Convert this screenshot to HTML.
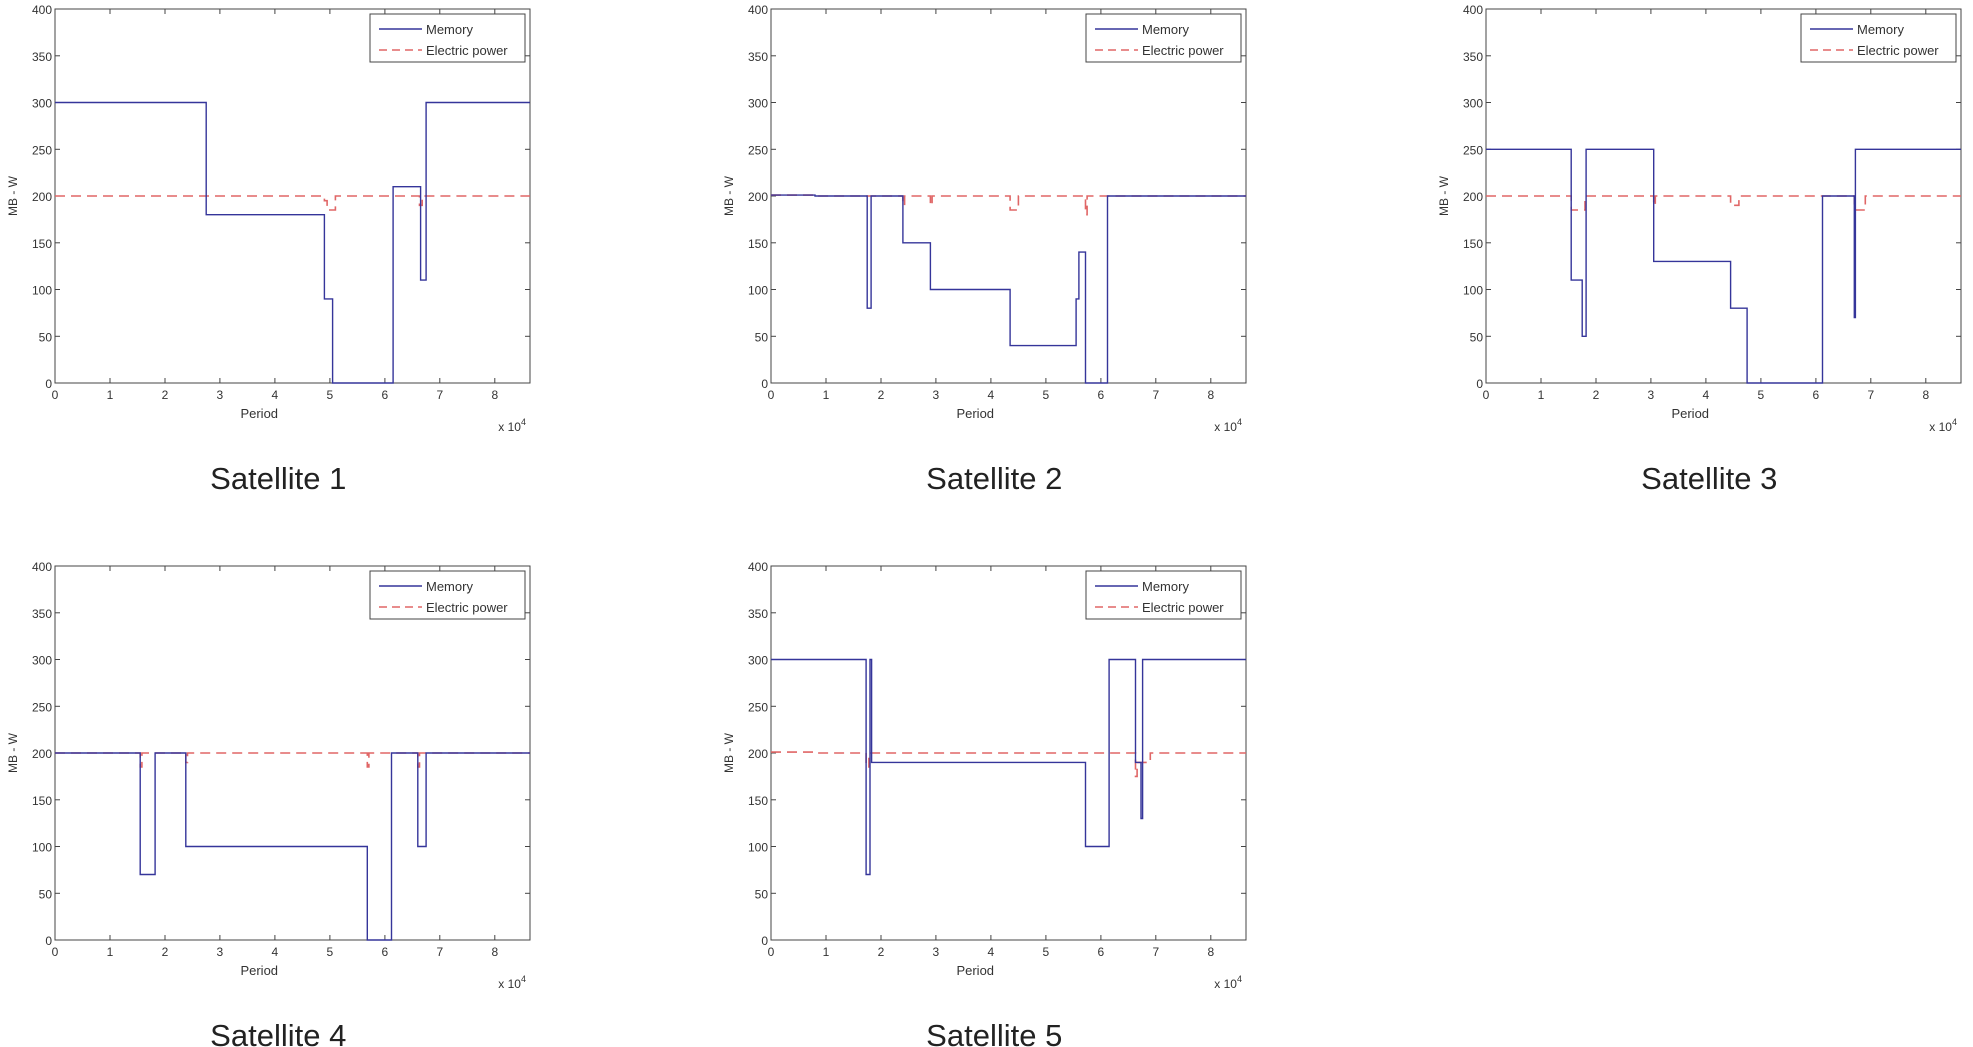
<!DOCTYPE html>
<html><head><meta charset="utf-8">
<style>
html,body{margin:0;padding:0;background:#fff;}
svg{display:block;font-family:"Liberation Sans",Arial,sans-serif;}
</style></head>
<body>
<svg id="root" width="1973" height="1047" viewBox="0 0 1973 1047"></svg>
<script>
// x values in units of 1e4 (Period), y in MB - W
const s1MemX=[0,2.75,4.9,5.05,6.15,6.65,6.75,8.64];
const s1MemY=[300,180,90,0,210,110,300,300];
const s1PowX=[0,4.9,4.95,5.1,6.63,6.68,8.64];
const s1PowY=[200,195,185,200,190,200,200];

const s2MemX=[0,0.8,1.75,1.82,2.4,2.9,4.35,5.55,5.6,5.72,6.12,8.64];
const s2MemY=[201,200,80,200,150,100,40,90,140,0,200,200];
const s2PowX=[0,0.8,2.4,2.43,2.9,2.93,4.35,4.5,5.72,5.75,8.64];
const s2PowY=[201,200,190,200,190,200,185,200,180,200,200];

const s3MemX=[0,1.55,1.75,1.82,3.05,4.45,4.75,6.12,6.7,6.72,8.64];
const s3MemY=[250,110,50,250,130,80,0,200,70,250,250];
const s3PowX=[0,1.55,1.8,3.05,3.08,4.45,4.6,6.7,6.9,8.64];
const s3PowY=[200,185,200,190,200,190,200,185,200,200];

const s4MemX=[0,1.55,1.82,2.38,5.68,6.12,6.6,6.75,8.64];
const s4MemY=[200,70,200,100,0,200,100,200,200];
const s4PowX=[0,1.55,1.58,2.38,2.41,5.68,5.71,6.6,6.63,8.64];
const s4PowY=[200,185,200,190,200,185,200,185,200,200];

const s5MemX=[0,1.73,1.8,1.83,5.72,6.15,6.63,6.73,6.76,8.64];
const s5MemY=[300,70,300,190,100,300,190,130,300,300];
const s5PowX=[0,0.8,1.73,1.78,6.63,6.66,6.9,8.64];
const s5PowY=[201,200,185,200,175,190,200,200];

const xTicks=[0,1,2,3,4,5,6,7,8];
const yTicks=[0,50,100,150,200,250,300,350,400];
const captions=["Satellite 1","Satellite 2","Satellite 3","Satellite 4","Satellite 5"];

const charts=[
 {mx:s1MemX,my:s1MemY,px:s1PowX,py:s1PowY,L:55,T:9},
 {mx:s2MemX,my:s2MemY,px:s2PowX,py:s2PowY,L:771,T:9},
 {mx:s3MemX,my:s3MemY,px:s3PowX,py:s3PowY,L:1486,T:9},
 {mx:s4MemX,my:s4MemY,px:s4PowX,py:s4PowY,L:55,T:566},
 {mx:s5MemX,my:s5MemY,px:s5PowX,py:s5PowY,L:771,T:566}
];
const W=475,H=374,XMAX=8.64,YMAX=400;
const NS="http://www.w3.org/2000/svg";
const root=document.getElementById('root');
function mk(tag,attrs,parent){const e=document.createElementNS(NS,tag);for(const k in attrs)e.setAttribute(k,attrs[k]);parent.appendChild(e);return e;}
function stepPath(xs,ys,sx,sy){let d='M'+sx(xs[0])+','+sy(ys[0]);for(let i=1;i<xs.length;i++){d+=' H'+sx(xs[i])+' V'+sy(ys[i]);}return d;}

charts.forEach((c,i)=>{
 const g=mk('g',{},root);
 
 
 const sx=v=>(c.L+v/XMAX*W).toFixed(1);
 const sy=v=>(c.T+H-v/YMAX*H).toFixed(1);
 const box=mk('rect',{x:c.L,y:c.T,width:W,height:H,fill:'#fff',stroke:'#444','stroke-width':1},g);
 
 
 xTicks.forEach(t=>{
  const x=sx(t);
  mk('line',{x1:x,x2:x,y1:c.T+H,y2:c.T+H-5,stroke:'#444'},g);
  mk('line',{x1:x,x2:x,y1:c.T,y2:c.T+5,stroke:'#444'},g);
  const tl=mk('text',{x:x,y:c.T+H+16,'text-anchor':'middle','font-size':12,fill:'#333'},g);
  tl.textContent=t;
  
  
 });
 yTicks.forEach(t=>{
  const y=sy(t);
  mk('line',{x1:c.L,x2:c.L+5,y1:y,y2:y,stroke:'#444'},g);
  mk('line',{x1:c.L+W,x2:c.L+W-5,y1:y,y2:y,stroke:'#444'},g);
  const tl=mk('text',{x:c.L-3,y:+y+5,'text-anchor':'end','font-size':12,fill:'#333'},g);
  tl.textContent=t;
  
  
 });
 const xt=mk('text',{x:c.L+W*0.43,y:c.T+H+35,'text-anchor':'middle','font-size':13,fill:'#333'},g);
 xt.textContent='Period';
 
 
 const ex=mk('text',{x:c.L+W-4,y:c.T+H+48,'text-anchor':'end','font-size':12,fill:'#333'},g);
 ex.innerHTML='x 10<tspan dy="-6" font-size="9">4</tspan>';
 
 
 const yt=mk('text',{x:0,y:0,'text-anchor':'middle','font-size':12,fill:'#333',transform:'translate('+(c.L-38)+','+(c.T+H/2)+') rotate(-90)'},g);
 yt.textContent='MB - W';
 
 
 const pw=mk('path',{d:stepPath(c.px,c.py,sx,sy),fill:'none',stroke:'#e06666','stroke-width':1.6,'stroke-dasharray':'10,6'},g);
 
 
 const mm=mk('path',{d:stepPath(c.mx,c.my,sx,sy),fill:'none',stroke:'#35359a','stroke-width':1.4},g);
 
 
 const lg=mk('g',{},g);
 
 
 const lx=c.L+W-160,ly=c.T+5;
 mk('rect',{x:lx,y:ly,width:155,height:48,fill:'#fff',stroke:'#444'},lg);
 mk('line',{x1:lx+9,x2:lx+52,y1:ly+15,y2:ly+15,stroke:'#35359a','stroke-width':1.4},lg);
 mk('line',{x1:lx+9,x2:lx+52,y1:ly+36,y2:ly+36,stroke:'#e06666','stroke-width':1.6,'stroke-dasharray':'8,5'},lg);
 const t1=mk('text',{x:lx+56,y:ly+20,'font-size':13,fill:'#333'},lg);t1.textContent='Memory';
 
 
 const t2=mk('text',{x:lx+56,y:ly+41,'font-size':13,fill:'#333'},lg);t2.textContent='Electric power';
 
 
 const cap=mk('text',{x:c.L+W*0.47,y:c.T+H+106,'text-anchor':'middle','font-size':31,fill:'#222'},root);
 cap.textContent=captions[i];
 
 
});
</script>
</body></html>
